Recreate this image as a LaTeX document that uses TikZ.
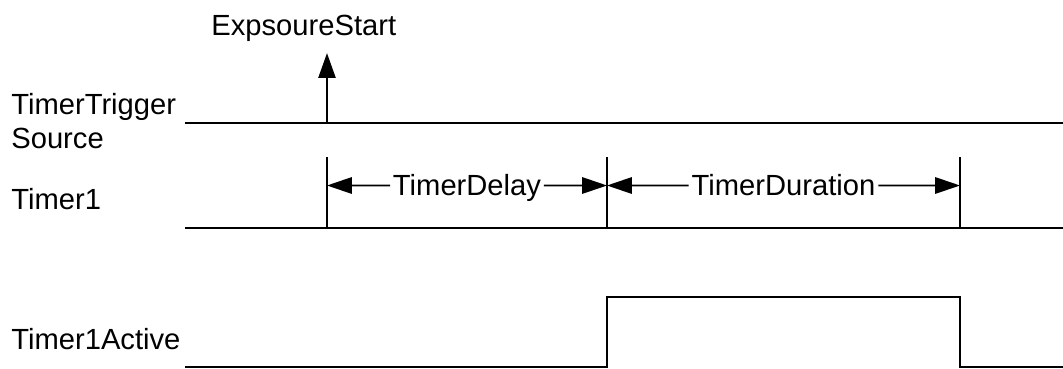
\documentclass[tikz,border=0pt]{standalone}
\usepackage{fontspec}
\setmainfont{Liberation Sans}
\usepackage{xcolor}
\usepackage{tikz}
\usetikzlibrary{positioning, arrows.meta, calc}
\definecolor{sigblack}{HTML}{000000}

\begin{document}
\begin{tikzpicture}[x=0.02cm, y=-0.02cm,
    sig/.style={draw=sigblack, line width=1.5pt},
    dimarr/.style={draw=sigblack, line width=1pt,
      -{Triangle[length=0.5cm, width=0.33cm]}},
    lbl/.style={anchor=base west, inner sep=0pt,
      font=\fontsize{16.6}{19.3}\selectfont},
    dimlbl/.style={inner xsep=1.5pt, inner ysep=0pt, text height=11.8pt,
      text depth=0pt, font=\fontsize{16.6}{19.3}\selectfont}]
    \useasboundingbox (0,0) rectangle (1063,369);

    % signal names
    \node[lbl] (lbltrig) at (11,114) {TimerTrigger};
    \node[lbl] (lblsrc) at (11,148) {Source};
    \node[lbl] (lbltimer) at (11,209) {Timer1};
    \node[lbl] (lblactive) at (11,349) {Timer1Active};
    \node[lbl] (lblexp) at (211,35) {ExpsoureStart};

    % key points of the waveforms
    \coordinate (trigA) at (185,123);
    \coordinate (trigB) at (1063,123);
    \coordinate (trigX) at (327,123);
    \coordinate (trigTip) at (327,53);
    \coordinate (tmrA) at (185,228);
    \coordinate (tmrB) at (1063,228);
    \coordinate (actA) at (185,367);
    \coordinate (actUp) at (607,297);
    \coordinate (actDown) at (960,297);
    \coordinate (actB) at (1063,367);

    % trigger source with exposure start event
    \draw[sig] (trigA) -- (trigB);
    \draw[sig, -{Triangle[length=0.5cm, width=0.34cm]}] (trigX) -- (trigTip);

    % timer1 with delay and duration marks
    \draw[sig] (tmrA) -- (tmrB);
    \foreach \t/\xx in {tkStart/327, tkMid/607, tkEnd/960} {
      \coordinate (\t) at (\xx,185.5);
      \draw[sig] (\xx,157) -- (\xx,228);
    }
    \node[dimlbl] (lbldelay) at ($(tkStart)!0.5!(tkMid)$) {TimerDelay};
    \node[dimlbl] (lbldur) at ($(tkMid)!0.5!(tkEnd)$) {TimerDuration};
    \draw[dimarr] (lbldelay.west) -- (tkStart);
    \draw[dimarr] (lbldelay.east) -- (tkMid);
    \draw[dimarr] (lbldur.west) -- (tkMid);
    \draw[dimarr] (lbldur.east) -- (tkEnd);

    % timer1 active pulse
    \draw[sig] (actA) -- (actA -| actUp) -- (actUp) -- (actDown)
      -- (actDown |- actB) -- (actB);
  \end{tikzpicture}
\end{document}
